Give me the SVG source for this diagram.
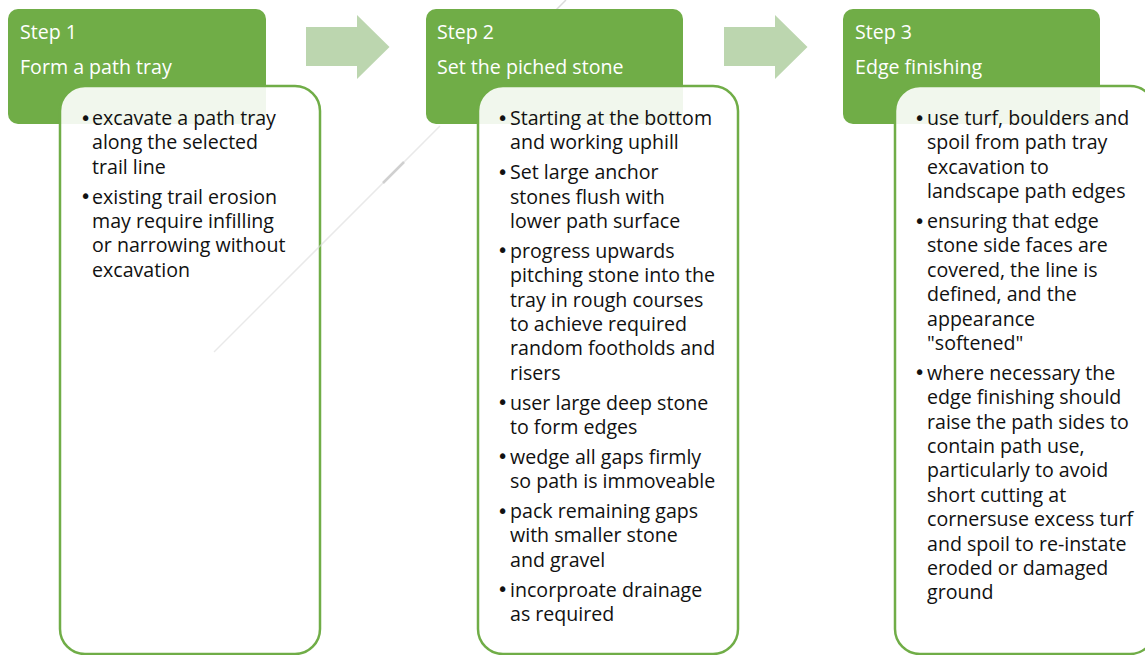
<svg xmlns="http://www.w3.org/2000/svg" width="1145" height="655" viewBox="0 0 1145 655">
<style>
.hdr{fill:#70AD47}
.body{fill:#FFFFFF;fill-opacity:0.9;stroke:#70AD47;stroke-width:2.5}
.arrow{fill:#BCD6AF}
.ht{font-family:"Open Sans","Liberation Sans",sans-serif;font-size:19.6px;fill:#FFFFFF}
.bt{font-family:"Open Sans","Liberation Sans",sans-serif;font-size:19.6px;fill:#111111}
.bul{font-family:"DejaVu Sans","Liberation Sans",sans-serif;font-size:19px;fill:#111111}
.faint{stroke:#DADADA;stroke-width:1.5;fill:none}
</style>
<rect width="1145" height="655" fill="#FFFFFF"/>
<g id="background-line-top">
<line class="faint" x1="566" y1="0" x2="556" y2="10"/>
</g>
<g id="connectors">
<polygon class="arrow" points="306,27 357,27 357,15 389.5,47 357,79 357,66 306,66"/>
<polygon class="arrow" points="724,27 775,27 775,15 807.5,47 775,79 775,66 724,66"/>
</g>
<g id="step1">
<rect class="hdr" x="8" y="9" width="258" height="115" rx="10"/>
<text class="ht" x="20" y="39">Step 1</text>
<text class="ht" x="20" y="74">Form a path tray</text>
<rect class="body" x="60" y="86" width="260" height="568" rx="25"/>
<text class="bul"><tspan x="80" y="124.5">•</tspan><tspan x="80" y="203.1">•</tspan></text>
<text class="bt">
<tspan x="92" y="125">excavate a path tray</tspan>
<tspan x="92" y="149.4">along the selected</tspan>
<tspan x="92" y="173.8">trail line</tspan>
<tspan x="92" y="203.6">existing trail erosion</tspan>
<tspan x="92" y="228">may require infilling</tspan>
<tspan x="92" y="252.4">or narrowing without</tspan>
<tspan x="92" y="276.8">excavation</tspan>
</text>
</g>
<g id="step2">
<rect class="hdr" x="426" y="9" width="257" height="115" rx="10"/>
<text class="ht" x="437" y="39">Step 2</text>
<text class="ht" x="437" y="74">Set the piched stone</text>
<rect class="body" x="478" y="86" width="260" height="568" rx="25"/>
<text class="bul"><tspan x="497" y="124.5">•</tspan><tspan x="497" y="178.7">•</tspan><tspan x="497" y="257.3">•</tspan><tspan x="497" y="409.1">•</tspan><tspan x="497" y="463.3">•</tspan><tspan x="497" y="517.5">•</tspan><tspan x="497" y="596.1">•</tspan></text>
<text class="bt">
<tspan x="510" y="125">Starting at the bottom</tspan>
<tspan x="510" y="149.4">and working uphill</tspan>
<tspan x="510" y="179.2">Set large anchor</tspan>
<tspan x="510" y="203.6">stones flush with</tspan>
<tspan x="510" y="228">lower path surface</tspan>
<tspan x="510" y="257.8">progress upwards</tspan>
<tspan x="510" y="282.2">pitching stone into the</tspan>
<tspan x="510" y="306.6">tray in rough courses</tspan>
<tspan x="510" y="331">to achieve required</tspan>
<tspan x="510" y="355.4">random footholds and</tspan>
<tspan x="510" y="379.8">risers</tspan>
<tspan x="510" y="409.6">user large deep stone</tspan>
<tspan x="510" y="434">to form edges</tspan>
<tspan x="510" y="463.8">wedge all gaps firmly</tspan>
<tspan x="510" y="488.2">so path is immoveable</tspan>
<tspan x="510" y="518">pack remaining gaps</tspan>
<tspan x="510" y="542.4">with smaller stone</tspan>
<tspan x="510" y="566.8">and gravel</tspan>
<tspan x="510" y="596.6">incorproate drainage</tspan>
<tspan x="510" y="621">as required</tspan>
</text>
</g>
<g id="step3">
<rect class="hdr" x="843" y="9" width="257" height="115" rx="10"/>
<text class="ht" x="855" y="39">Step 3</text>
<text class="ht" x="855" y="74">Edge finishing</text>
<rect class="body" x="895" y="86" width="260" height="568" rx="25"/>
<text class="bul"><tspan x="914" y="124.5">•</tspan><tspan x="914" y="227.5">•</tspan><tspan x="914" y="379.3">•</tspan></text>
<text class="bt">
<tspan x="927" y="125">use turf, boulders and</tspan>
<tspan x="927" y="149.4">spoil from path tray</tspan>
<tspan x="927" y="173.8">excavation to</tspan>
<tspan x="927" y="198.2">landscape path edges</tspan>
<tspan x="927" y="228">ensuring that edge</tspan>
<tspan x="927" y="252.4">stone side faces are</tspan>
<tspan x="927" y="276.8">covered, the line is</tspan>
<tspan x="927" y="301.2">defined, and the</tspan>
<tspan x="927" y="325.6">appearance</tspan>
<tspan x="927" y="350">"softened"</tspan>
<tspan x="927" y="379.8">where necessary the</tspan>
<tspan x="927" y="404.2">edge finishing should</tspan>
<tspan x="927" y="428.6">raise the path sides to</tspan>
<tspan x="927" y="453">contain path use,</tspan>
<tspan x="927" y="477.4">particularly to avoid</tspan>
<tspan x="927" y="501.8">short cutting at</tspan>
<tspan x="927" y="526.2">cornersuse excess turf</tspan>
<tspan x="927" y="550.6">and spoil to re-instate</tspan>
<tspan x="927" y="575">eroded or damaged</tspan>
<tspan x="927" y="599.4">ground</tspan>
</text>
</g>
<g id="background-line">
<line class="faint" x1="440" y1="126" x2="214" y2="352" stroke-opacity="0.6"/>
<line x1="383" y1="183" x2="404" y2="162" stroke="#D0D0D0" stroke-width="2.5"/>
</g>
</svg>
